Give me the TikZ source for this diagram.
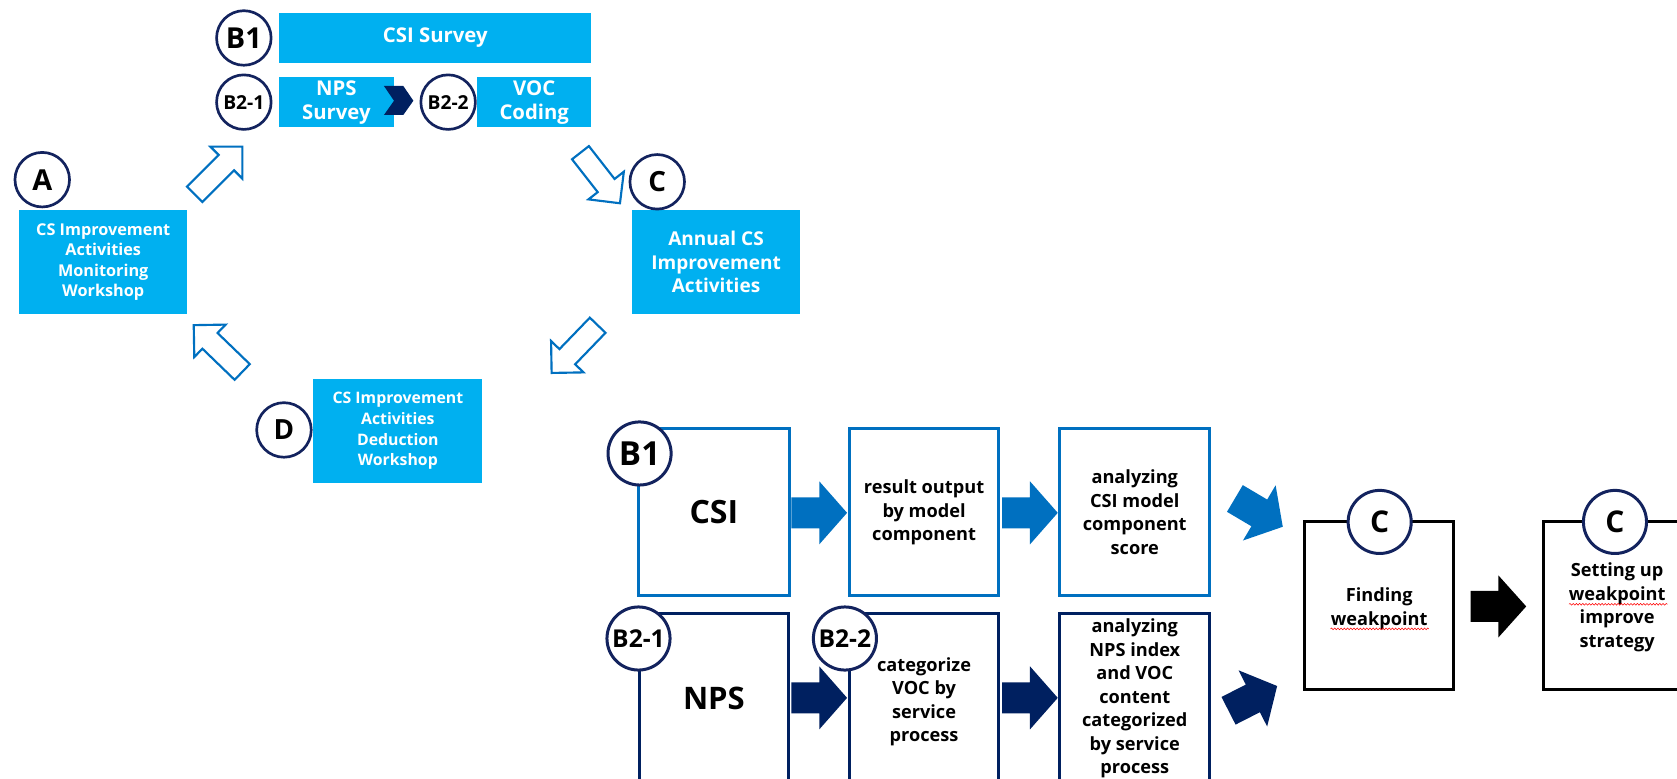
\documentclass[tikz,border=0pt]{standalone}
\usepackage{fontspec}
\setmainfont{Open Sans}
\usetikzlibrary{decorations.pathmorphing}
\definecolor{cyanfill}{HTML}{00B0F0}
\definecolor{msblue}{HTML}{0070C0}
\definecolor{navy}{HTML}{002060}
\definecolor{ringnavy}{HTML}{13235E}
\newcommand{\BlockArr}[8]{%
  \begin{scope}[shift={(#2,#3)},rotate=#4]
    \path[#1] ({-#5/2},{-#6}) -- ({#5/2-#8},{-#6}) -- ({#5/2-#8},{-#7}) -- ({#5/2},0)
      -- ({#5/2-#8},{#7}) -- ({#5/2-#8},{#6}) -- ({-#5/2},{#6}) -- cycle;
  \end{scope}}
\newcommand{\fs}[2]{\bfseries\fontsize{#1}{#2}\selectfont}
\begin{document}
\begin{tikzpicture}[x=1pt,y=-1pt,
  cyanbox/.style={fill=cyanfill, draw=none, inner sep=0pt, text=white, align=center},
  ring/.style={circle, draw=ringnavy, fill=white, line width=2.5pt, inner sep=0pt, minimum size=51pt},
  bigring/.style={ring, line width=2.8pt, minimum size=59pt},
  bluebox/.style={draw=msblue, line width=2.8pt, fill=white, inner sep=0pt, align=center, font=\fs{17}{22}},
  navybox/.style={bluebox, draw=navy},
  blackbox/.style={bluebox, draw=black},
  txt/.style={align=center, inner sep=0pt, font=\fs{17}{22}},
  hollow/.style={draw=msblue, line width=2pt, fill=white, line join=miter},
  squig/.style={draw=red, line width=0.5pt, decorate, decoration={snake, amplitude=0.8pt, segment length=3pt}}
]
\useasboundingbox (0,0) rectangle (1568,728);
\clip (0,0) rectangle (1568,728);
\fill[white] (0,0) rectangle (1568,728);

% ---------- top cycle ----------
\node[cyanbox, minimum width=292pt, minimum height=47pt, font=\fs{19}{22}] (csis) at (407,35.5) {CSI Survey};
\node[cyanbox, minimum width=107pt, minimum height=47pt, font=\fs{19}{22.5}] (npss) at (314.5,95.5) {NPS\\Survey};
\node[cyanbox, minimum width=107pt, minimum height=47pt, font=\fs{19}{22.5}] (vocc) at (499.5,95.5) {VOC\\Coding};
\node[cyanbox, minimum width=157pt, minimum height=97pt, font=\fs{15.2}{19.3}] (abox) at (96.5,245) {CS Improvement\\Activities\\Monitoring\\Workshop};
\node[cyanbox, minimum width=157pt, minimum height=97pt, font=\fs{17.8}{22}] (cbox) at (669.5,245) {Annual CS\\Improvement\\Activities};
\node[cyanbox, minimum width=158pt, minimum height=97pt, font=\fs{14.8}{19.4}] (dbox) at (372,403) {CS Improvement\\Activities\\Deduction\\Workshop};

\fill[navy] (359,80.4) -- (377.1,80.4) -- (386.5,94.2) -- (377.1,107.5) -- (359,107.5) -- (368.4,94.2) -- cycle;

\node[ring, font=\fs{27}{27}] (rb1) at (228,35.5) {B1};
\node[ring, font=\fs{18}{18}] (rb21) at (228,95.5) {B2-1};
\node[ring, font=\fs{18}{18}] (rb22) at (419,95.5) {B2-2};
\node[ring, font=\fs{27}{27}] (ra) at (39.5,168) {A};
\node[ring, font=\fs{26}{26}] (rc) at (614.5,170) {C};
\node[ring, font=\fs{26}{26}] (rd) at (265.5,402) {D};

\BlockArr{hollow}{204.3}{159.4}{45}{63}{10.2}{21.1}{21.1}
\BlockArr{hollow}{561.2}{166.4}{-52}{60}{10}{21}{21}
\BlockArr{hollow}{537.3}{326.4}{-134}{62}{10.2}{21.1}{21.1}
\BlockArr{hollow}{203.8}{325.9}{136}{63}{10.2}{21.1}{21.1}

% ---------- bottom flow ----------
\node[bluebox, minimum width=141pt, minimum height=156pt, font=\fs{30}{32}] (csi) at (667.5,479) {CSI};
\node[bluebox, minimum width=140pt, minimum height=156pt] (rout) at (864,479) {result output\\by model\\component};
\node[bluebox, minimum width=140pt, minimum height=156pt] (acsi) at (1061,479) {analyzing\\CSI model\\component\\score};

\node[navybox, minimum width=139pt, minimum height=216pt] (npsb) at (667.5,682) {};
\node[txt, font=\fs{29}{32}] (npst) at (667.5,653) {NPS};
\node[navybox, minimum width=140pt, minimum height=216pt] (catb) at (864,682) {};
\node[txt] (catt) at (864,656) {categorize\\VOC by\\service\\process};
\node[navybox, minimum width=140pt, minimum height=216pt] (anpb) at (1061,682) {};
\node[txt] (anpt) at (1061,653) {analyzing\\NPS index\\and VOC\\content\\categorized\\by service\\process};

\node[blackbox, minimum width=139pt, minimum height=157pt] (fwb) at (1289.5,566.5) {};
\node[txt] (fwt) at (1289.5,569) {Finding\\weakpoint};
\node[blackbox, minimum width=157pt, minimum height=157pt] (sub) at (1521.5,566.5) {};
\node[txt] (sut) at (1512,568) {Setting up\\weakpoint\\improve\\strategy};
\draw[squig] (1244,588) -- (1336,588);
\draw[squig] (1467,565) -- (1559,565);

\BlockArr{fill=msblue}{766}{479.5}{0}{52}{14.5}{29.5}{26}
\BlockArr{fill=msblue}{963}{479.5}{0}{52}{14.5}{29.5}{26}
\BlockArr{fill=navy}{766}{652.5}{0}{52}{14.5}{29.5}{26}
\BlockArr{fill=navy}{963}{652.5}{0}{52}{14.5}{29.5}{26}
\BlockArr{fill=msblue}{1177}{479.3}{-30.6}{52}{14.5}{30}{25.5}
\BlockArr{fill=navy}{1171.4}{653}{27}{51}{14.5}{29.5}{25.5}
\BlockArr{fill=black}{1401}{567}{0}{52}{14.5}{29}{26}

\node[bigring, font=\fs{31}{31}] (bb1) at (598,424) {B1};
\node[bigring, font=\fs{23}{24}] (bb21) at (597,597) {B2-1};
\node[bigring, font=\fs{23}{24}] (bb22) at (790,597) {B2-2};
\node[bigring, font=\fs{28}{28}] (bc1) at (1290,488) {C};
\node[bigring, font=\fs{28}{28}] (bc2) at (1510,488) {C};
\end{tikzpicture}
\end{document}
